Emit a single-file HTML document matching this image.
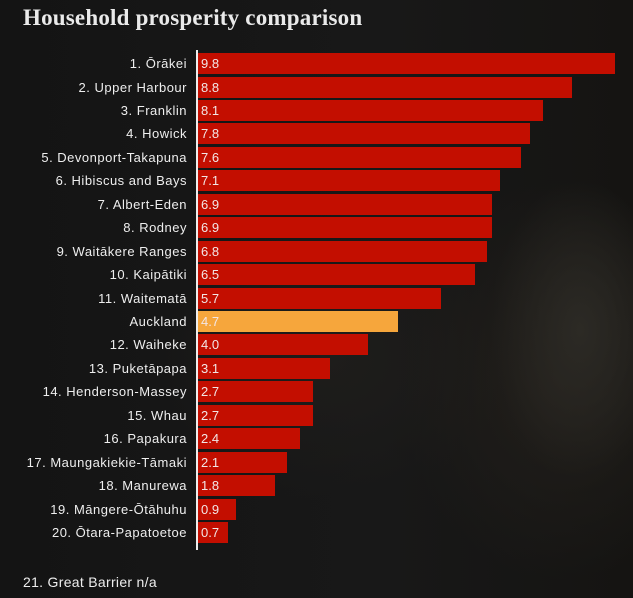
<!DOCTYPE html><html><head><meta charset="utf-8"><style>
body{margin:0;width:633px;height:598px;overflow:hidden;background:#131313;font-family:"Liberation Sans",sans-serif;position:relative}
.bg{position:absolute;inset:0;background:radial-gradient(ellipse 90px 150px at 580px 330px,#2c2a25,transparent),radial-gradient(ellipse 160px 200px at 560px 380px,#221f1b,transparent),radial-gradient(ellipse 180px 140px at 330px 360px,#1e1d1b,transparent),linear-gradient(90deg,#141414,#181818 60%,#151412)}
h1{position:absolute;left:23px;top:5px;margin:0;font:bold 23px "Liberation Serif",serif;color:#eaeaea;letter-spacing:0.2px}
.r{position:absolute;left:0;width:633px;height:21px}
.l{position:absolute;left:0;width:187px;text-align:right;color:#eee;font-size:13px;line-height:21px;white-space:nowrap;letter-spacing:0.5px}
.b{position:absolute;left:198px;height:21px;background:#c30e00;color:#f2e6e6;font-size:13px;line-height:21px;padding-left:3px;box-sizing:border-box}
.ax{position:absolute;left:196px;top:50px;width:2px;height:500px;background:#eee}
.n{position:absolute;left:23px;top:574px;color:#eee;font-size:14px;letter-spacing:0.3px}
</style></head><body><div class="bg"></div>
<h1>Household prosperity comparison</h1>
<div class="r" style="top:53px"><div class="l">1. Ōrākei</div><div class="b" style="width:417px">9.8</div></div>
<div class="r" style="top:76.5px"><div class="l">2. Upper Harbour</div><div class="b" style="width:374px">8.8</div></div>
<div class="r" style="top:99.9px"><div class="l">3. Franklin</div><div class="b" style="width:345px">8.1</div></div>
<div class="r" style="top:123.4px"><div class="l">4. Howick</div><div class="b" style="width:332px">7.8</div></div>
<div class="r" style="top:146.8px"><div class="l">5. Devonport-Takapuna</div><div class="b" style="width:323px">7.6</div></div>
<div class="r" style="top:170.3px"><div class="l">6. Hibiscus and Bays</div><div class="b" style="width:302px">7.1</div></div>
<div class="r" style="top:193.7px"><div class="l">7. Albert-Eden</div><div class="b" style="width:294px">6.9</div></div>
<div class="r" style="top:217.2px"><div class="l">8. Rodney</div><div class="b" style="width:294px">6.9</div></div>
<div class="r" style="top:240.6px"><div class="l">9. Waitākere Ranges</div><div class="b" style="width:289px">6.8</div></div>
<div class="r" style="top:264.1px"><div class="l">10. Kaipātiki</div><div class="b" style="width:277px">6.5</div></div>
<div class="r" style="top:287.5px"><div class="l">11. Waitematā</div><div class="b" style="width:243px">5.7</div></div>
<div class="r" style="top:311px"><div class="l">Auckland</div><div class="b" style="width:200px;background:#f6a63c">4.7</div></div>
<div class="r" style="top:334.4px"><div class="l">12. Waiheke</div><div class="b" style="width:170px">4.0</div></div>
<div class="r" style="top:357.9px"><div class="l">13. Puketāpapa</div><div class="b" style="width:132px">3.1</div></div>
<div class="r" style="top:381.3px"><div class="l">14. Henderson-Massey</div><div class="b" style="width:115px">2.7</div></div>
<div class="r" style="top:404.8px"><div class="l">15. Whau</div><div class="b" style="width:115px">2.7</div></div>
<div class="r" style="top:428.2px"><div class="l">16. Papakura</div><div class="b" style="width:102px">2.4</div></div>
<div class="r" style="top:451.7px"><div class="l">17. Maungakiekie-Tāmaki</div><div class="b" style="width:89px">2.1</div></div>
<div class="r" style="top:475.1px"><div class="l">18. Manurewa</div><div class="b" style="width:77px">1.8</div></div>
<div class="r" style="top:498.6px"><div class="l">19. Māngere-Ōtāhuhu</div><div class="b" style="width:38px">0.9</div></div>
<div class="r" style="top:522px"><div class="l">20. Ōtara-Papatoetoe</div><div class="b" style="width:30px">0.7</div></div>
<div class="ax"></div>
<div class="n">21. Great Barrier n/a</div>
</body></html>
